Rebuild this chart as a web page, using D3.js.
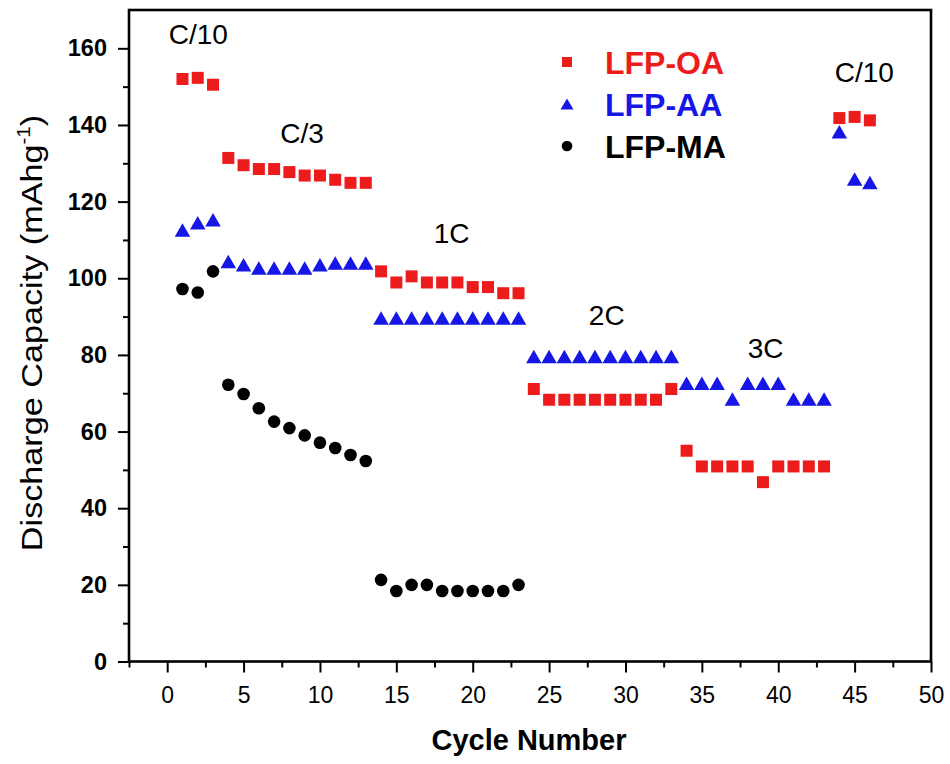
<!DOCTYPE html>
<html>
<head>
<meta charset="utf-8">
<script src="https://cdn.jsdelivr.net/npm/d3@7"></script>
<style>
  body { margin: 0; background: #fff; }
  svg { font-family: "Liberation Sans", Arial, sans-serif; }
</style>
</head>
<body>
<script>
var width = 950, height = 764

// cycle numbers
var cycles = [1,2,3,4,5,6,7,8,9,10,11,12,13,14,15,16,17,18,19,20,21,22,23,
  24,25,26,27,28,29,30,31,32,33,34,35,36,37,38,39,40,41,42,43,44,45,46]

// discharge capacity (mAh/g) per cycle
var lfpOA = [152.0,152.3,150.5,131.4,129.5,128.5,128.5,127.7,126.8,126.8,125.7,124.9,124.9,
  101.8,98.9,100.5,98.9,98.9,98.9,97.7,97.7,96.1,96.1,
  71.1,68.3,68.3,68.3,68.3,68.3,68.3,68.3,68.3,71.1,
  55.0,50.9,50.9,50.9,50.9,46.8,50.9,50.9,50.9,50.9,
  141.8,142.1,141.2]
var lfpAA = [112.6,114.5,115.3,104.4,103.5,102.7,102.7,102.7,102.7,103.5,104.0,104.0,104.0,
  89.6,89.6,89.6,89.6,89.6,89.6,89.6,89.6,89.6,89.6,
  79.6,79.6,79.6,79.6,79.6,79.6,79.6,79.6,79.6,79.6,
  72.6,72.6,72.6,68.5,72.6,72.6,72.6,68.5,68.5,68.5,
  138.2,125.9,125.0]
var lfpMA = [97.2,96.3,101.8,72.2,69.8,66.1,62.6,60.9,59.0,57.1,55.7,53.9,52.3,
  21.3,18.4,20.0,20.0,18.4,18.4,18.4,18.4,18.4,20.0]

var seriesNames = ["LFP-OA", "LFP-AA", "LFP-MA"]
var seriesColors = ["#ec1c1c", "#1616e6", "#000000"]

var xTicks = [0,5,10,15,20,25,30,35,40,45,50]
var yTicks = [0,20,40,60,80,100,120,140,160]

// C-rate labels (data coordinates)
var rateLabels = ["C/10", "C/3", "1C", "2C", "3C", "C/10"]
var rateLabelX = [0.1, 7.4, 17.45, 27.6, 38.0, 43.7]
var rateLabelY = [161.0, 135.3, 109.2, 87.9, 79.2, 151.2]

var margin = {left: 129, right: 19, top: 10, bottom: 102.5}

var svg = d3.select("body").append("svg")
    .attr("width", width)
    .attr("height", height)

svg.append("rect").attr("width", width).attr("height", height).attr("fill", "#fff")

var x = d3.scaleLinear().domain([-2.5, 50]).range([margin.left, width - margin.right])
var y = d3.scaleLinear().domain([0, 170]).range([height - margin.bottom, margin.top])

// minor ticks
var xMinor = xTicks.map(function(d) { return d - 2.5 })
var yMinor = yTicks.map(function(d) { return d + 10 }).filter(function(d) { return d < 170 })

svg.append("g")
  .attr("transform", "translate(0," + y(0) + ")")
  .call(d3.axisBottom(x).tickValues(xMinor).tickSize(6).tickFormat(""))
  .call(function(g) { g.select(".domain").remove() })
  .selectAll("line").attr("stroke-width", 2)

svg.append("g")
  .attr("transform", "translate(" + x(-2.5) + ",0)")
  .call(d3.axisLeft(y).tickValues(yMinor).tickSize(6).tickFormat(""))
  .call(function(g) { g.select(".domain").remove() })
  .selectAll("line").attr("stroke-width", 2)

// major ticks + labels
var xAxis = svg.append("g")
  .attr("transform", "translate(0," + y(0) + ")")
  .call(d3.axisBottom(x).tickValues(xTicks).tickSize(11).tickPadding(14))
xAxis.select(".domain").remove()
xAxis.selectAll("line").attr("stroke-width", 2)
xAxis.selectAll("text").attr("font-size", 23).attr("fill", "#000")
  .attr("font-family", "'Liberation Sans', Arial, sans-serif")

var yAxis = svg.append("g")
  .attr("transform", "translate(" + x(-2.5) + ",0)")
  .call(d3.axisLeft(y).tickValues(yTicks).tickSize(11).tickPadding(11))
yAxis.select(".domain").remove()
yAxis.selectAll("line").attr("stroke-width", 2)
yAxis.selectAll("text").attr("font-size", 23.5).attr("font-weight", "bold").attr("fill", "#000")
  .attr("font-family", "'Liberation Sans', Arial, sans-serif")

// frame
svg.append("rect")
  .attr("x", x(-2.5)).attr("y", y(170))
  .attr("width", x(50) - x(-2.5)).attr("height", y(0) - y(170))
  .attr("fill", "none").attr("stroke", "#000").attr("stroke-width", 2.6)

// axis titles
svg.append("text")
  .attr("x", (x(-2.5) + x(50)) / 2 - 1).attr("y", 750)
  .attr("text-anchor", "middle")
  .attr("font-size", 29).attr("font-weight", "bold")
  .text("Cycle Number")

var yTitle = svg.append("text")
  .attr("transform", "translate(42,333) rotate(-90) scale(1.14,1)")
  .attr("text-anchor", "middle")
  .attr("font-size", 30)
yTitle.append("tspan").text("Discharge Capacity (mAhg")
yTitle.append("tspan").attr("font-size", 18).attr("dy", -12).text("-1")
yTitle.append("tspan").attr("dy", 12).text(")")

// symbols
var tri = function(w, h) {
  return "M0," + (-h / 2) + "L" + (w / 2) + "," + (h / 2) + "L" + (-w / 2) + "," + (h / 2) + "Z"
}

svg.append("g").selectAll("rect")
  .data(lfpOA)
  .enter().append("rect")
  .attr("x", function(d, i) { return x(cycles[i]) - 6 })
  .attr("y", function(d) { return y(d) - 6 })
  .attr("width", 12).attr("height", 12)
  .attr("fill", seriesColors[0])

svg.append("g").selectAll("path")
  .data(lfpAA)
  .enter().append("path")
  .attr("d", tri(15.5, 13.5))
  .attr("transform", function(d, i) { return "translate(" + x(cycles[i]) + "," + y(d) + ")" })
  .attr("fill", seriesColors[1])

svg.append("g").selectAll("circle")
  .data(lfpMA)
  .enter().append("circle")
  .attr("cx", function(d, i) { return x(cycles[i]) })
  .attr("cy", function(d) { return y(d) })
  .attr("r", 6.3)
  .attr("fill", seriesColors[2])

// rate labels
svg.append("g").selectAll("text")
  .data(rateLabels)
  .enter().append("text")
  .attr("x", function(d, i) { return x(rateLabelX[i]) })
  .attr("y", function(d, i) { return y(rateLabelY[i]) })
  .attr("font-size", 28)
  .text(function(d) { return d })

// legend
var legend = svg.append("g").attr("transform", "translate(567,62)")
seriesNames.forEach(function(name, i) {
  var g = legend.append("g").attr("transform", "translate(0," + (i * 42) + ")")
  if (i === 0) {
    g.append("rect").attr("x", -5).attr("y", -5).attr("width", 10).attr("height", 10)
      .attr("fill", seriesColors[i])
  } else if (i === 1) {
    g.append("path").attr("d", tri(13, 11)).attr("fill", seriesColors[i])
  } else {
    g.append("circle").attr("r", 5.3).attr("fill", seriesColors[i])
  }
  g.append("text")
    .attr("x", 38).attr("y", 11.5)
    .attr("font-size", 32).attr("font-weight", "bold")
    .attr("fill", seriesColors[i])
    .text(name)
})
</script>
</body>
</html>
